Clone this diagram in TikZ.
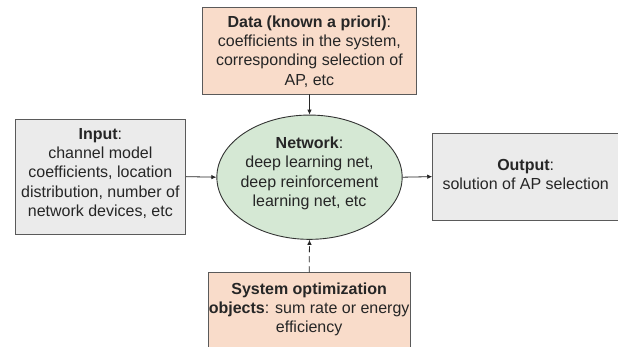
\documentclass[tikz,border=0pt]{standalone}
\usepackage{fontspec}
\setmainfont{Liberation Sans}
\usetikzlibrary{arrows.meta,shapes.geometric}
\definecolor{peachfill}{HTML}{F9DCCA}
\definecolor{greyfill}{HTML}{EBEBEB}
\definecolor{greenfill}{HTML}{D5E8D4}
\definecolor{edge}{HTML}{5A5A5A}
\begin{document}
\begin{tikzpicture}[x=1pt,y=-1pt,
  box/.style={draw=edge, line width=0.9pt, rectangle, inner sep=0pt},
  peachbox/.style={box, fill=peachfill},
  greybox/.style={box, fill=greyfill},
  netnode/.style={ellipse, draw=black!80, line width=0.9pt, fill=greenfill, inner sep=0pt},
  txt/.style={font=\fontsize{16}{19.2}\selectfont, text=black!85, align=center, inner sep=0pt},
  arr/.style={-{Latex[length=5pt,width=4.5pt]}, line width=0.8pt, black!85}]
\useasboundingbox (0,0) rectangle (618,347);

% shapes
\node[peachbox, minimum width=213.5pt, minimum height=86.7pt] (data) at (309.4,50.7) {};
\node[greybox, minimum width=170.7pt, minimum height=114.7pt] (input) at (100.35,176.65) {};
\node[netnode, minimum width=185.3pt, minimum height=124.3pt] (net) at (309.5,177.2) {};
\node[greybox, minimum width=186pt, minimum height=86.7pt] (output) at (525.7,176.65) {};
\node[peachbox, minimum width=201.7pt, minimum height=76pt] (goal) at (309.15,310.7) {};

% texts
\node[txt] (datatxt) at ([yshift=-0.8pt]data.center)
  {\textbf{Data (known a priori)}:\\coefficients in the system,\\corresponding selection of\\AP, etc};
\node[txt] (inputtxt) at ([yshift=3.3pt]input.center)
  {\textbf{Input}:\\channel model\\coefficients, location\\distribution, number of\\network devices, etc};
\node[txt] (nettxt) at ([yshift=3.9pt]net.center)
  {\textbf{Network}:\\deep learning net,\\deep reinforcement\\learning net, etc};
\node[txt] (outputtxt) at ([yshift=2pt]output.center)
  {\textbf{Output}:\\solution of AP selection};
\node[txt] (goaltxt) at ([yshift=1.2pt]goal.center)
  {\textbf{System optimization}\\\textbf{objects}: sum rate or energy\\efficiency};

% connectors
\draw[arr] (data.south) -- (net.north);
\draw[arr] (input.east) -- (net.west);
\draw[arr] (net.east) -- (output.west);
\draw[arr, dash pattern=on 6pt off 4pt] (goal.north) -- (net.south);
\end{tikzpicture}
\end{document}
